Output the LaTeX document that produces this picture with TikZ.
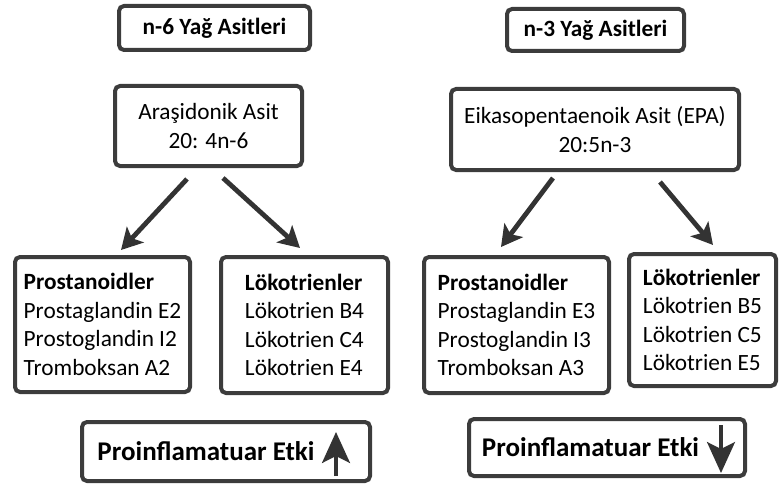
\documentclass[tikz,border=0pt]{standalone}
\usepackage{fontspec}
\setmainfont{Carlito}
\usepackage{tikz}
\usetikzlibrary{positioning,calc,arrows.meta}

\definecolor{boxgray}{HTML}{3C3C3C}
\definecolor{arrgray}{HTML}{333333}

\tikzset{
	box/.style={draw=boxgray, line width=4pt, rounded corners=5pt, fill=white,
		inner sep=0pt, align=center, font=\fontsize{23.3}{28.5}\selectfont},
	listbox/.style={box, align=left},
	effbox/.style={box, font=\fontsize{27}{32}\selectfont\bfseries},
	flow/.style={draw=arrgray, line width=4.8pt,
		-{Stealth[length=21pt,width=23pt,inset=5pt]}},
	updown/.style={draw=arrgray, line width=3.2pt,
		-{Stealth[length=31pt,width=28pt,inset=7pt]}}
}

\begin{document}
\begin{tikzpicture}[x=1pt,y=-1pt]
		\useasboundingbox (0,0) rectangle (779,484);
		
		% n-6 side
		\node[box, minimum width=191, minimum height=44] (titleL) at (214.5,28) {\bfseries n-6 Yağ Asitleri};
		\node[box, minimum width=187, minimum height=80] (ara) at (208.5,126) {Araşidonik Asit\\20: 4n-6};
		
		\node[listbox, minimum width=175, minimum height=135] (prosL) at (102.5,324.5)
			{\textbf{Prostanoidler}\\Prostaglandin E2\\Prostoglandin I2\\Tromboksan A2};
		\node[listbox, minimum width=167, minimum height=136] (lokL) at (304.5,325)
			{\textbf{Lökotrienler}\\Lökotrien B4\\Lökotrien C4\\Lökotrien E4};
		
		\node[effbox, minimum width=288, minimum height=59] (effL) at (226,451.5) {Proinflamatuar Etki\hspace{40pt}};
		
		% n-3 side
		\node[box, minimum width=177, minimum height=42] (titleR) at (595.5,30) {\bfseries n-3 Yağ Asitleri};
		\node[box, minimum width=288, minimum height=81] (epa) at (595,129.5) {Eikasopentaenoik Asit (EPA)\\20:5n-3};
		
		\node[listbox, minimum width=185, minimum height=136] (prosR) at (516.5,325)
			{\textbf{Prostanoidler}\\Prostaglandin E3\\Prostoglandin I3\\Tromboksan A3};
		\node[listbox, minimum width=147, minimum height=132] (lokR) at (702.5,320)
			{\textbf{Lökotrienler}\\Lökotrien B5\\Lökotrien C5\\Lökotrien E5};
		
		\node[effbox, minimum width=276, minimum height=57] (effR) at (607,447.5) {Proinflamatuar Etki\hspace{33pt}};
		
		% arrows
		\draw[flow] ($(ara.south)+(-21.5,11)$) -- ($(prosL.north)+(18.5,-5)$);
		\draw[flow] ($(ara.south)+(14.5,10)$) -- ($(lokL.north)+(-4.5,-7)$);
		\draw[flow] ($(epa.south)+(-42,6)$) -- ($(prosR.north)+(-15.5,-8)$);
		\draw[flow] ($(epa.south)+(65,10)$) -- ($(lokR.north)+(10.5,-7)$);
		
		\draw[updown] ($(effL.east)+(-36,24.5)$) -- ($(effL.east)+(-36,-19.5)$);
		\draw[updown] ($(effR.east)+(-26,-22.5)$) -- ($(effR.east)+(-26,25.5)$);
	\end{tikzpicture}
\end{document}
